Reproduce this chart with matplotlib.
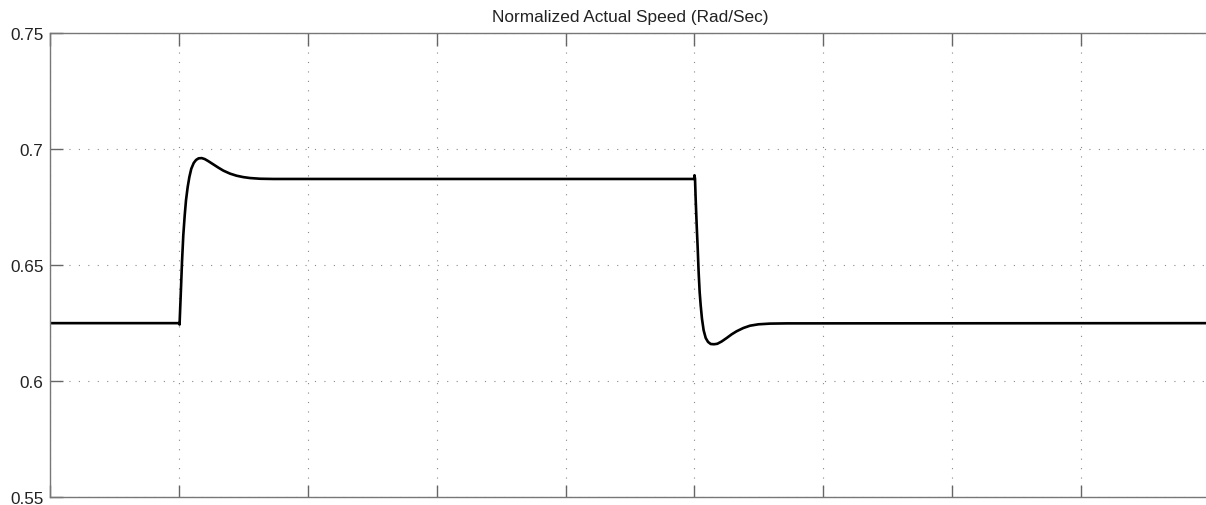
import numpy as np
import matplotlib
matplotlib.use("Agg")
import matplotlib.pyplot as plt

plt.rcParams['font.family'] = ['Liberation Sans', 'DejaVu Sans']

# ----------------------------
# Data
# ----------------------------
title = "Normalized Actual Speed (Rad/Sec)"

# flat start, step up at t=1
time_up = [0.0, 1.0, 1.002, 1.013, 1.021, 1.031, 1.042, 1.052, 1.065, 1.078,
           1.093, 1.112, 1.130, 1.150, 1.174, 1.197, 1.225, 1.264, 1.303,
           1.342, 1.394, 1.445, 1.497, 1.549, 1.627, 1.730, 1.860]
speed_up = [0.625, 0.625, 0.6244, 0.6399, 0.6514, 0.6629, 0.6715, 0.6780, 0.6837, 0.6880,
            0.6916, 0.6941, 0.6954, 0.6961, 0.6962, 0.6958, 0.6949, 0.6935, 0.6921,
            0.6908, 0.6895, 0.6886, 0.6880, 0.6876, 0.6873, 0.6872, 0.6872]

# step down at t=5, settle back
time_down = [4.998, 5.000, 5.004, 5.009, 5.017, 5.025, 5.032, 5.040, 5.048, 5.058,
             5.071, 5.087, 5.105, 5.126, 5.151, 5.177, 5.211, 5.250, 5.289,
             5.327, 5.379, 5.431, 5.496, 5.586, 5.716, 9.0]
speed_down = [0.6872, 0.6888, 0.6873, 0.6787, 0.6672, 0.6571, 0.6471, 0.6384, 0.6327, 0.6269,
              0.6219, 0.6186, 0.6169, 0.6160, 0.6159, 0.6161, 0.6171, 0.6186, 0.6202,
              0.6215, 0.6229, 0.6239, 0.6245, 0.6248, 0.6249, 0.625]

time = time_up + time_down
speed = speed_up + speed_down

x_ticks = [0, 1, 2, 3, 4, 5, 6, 7, 8, 9]
y_ticks = [0.55, 0.6, 0.65, 0.7, 0.75]
y_ticklabels = ["0.55", "0.6", "0.65", "0.7", "0.75"]

# ----------------------------
# Figure
# ----------------------------
fig = plt.figure(figsize=(12.06, 5.06), dpi=100)
ax = fig.add_axes([50.5 / 1206, 8 / 506, 1159.2 / 1206, 463.6 / 506])

ax.plot(time, speed, color="black", linewidth=1.9,
        solid_joinstyle="round", solid_capstyle="round")

ax.set_xlim(0, 9)
ax.set_ylim(0.55, 0.75)
ax.set_xticks(x_ticks)
ax.set_xticklabels([])
ax.set_yticks(y_ticks)
ax.set_yticklabels(y_ticklabels)

ax.tick_params(direction="in", length=9, width=1.0, color="#666666",
               top=True, right=False, labelsize=12.3, labelcolor="#222222", pad=5)
ax.grid(True, color="#888888", linestyle=(0, (1, 7.5)), linewidth=0.8)

for s in ax.spines.values():
    s.set_color("#777777")
    s.set_linewidth(1.0)

ax.set_title(title, fontsize=12.4, color="#222222", pad=9)

fig.savefig("out.png", dpi=100)
